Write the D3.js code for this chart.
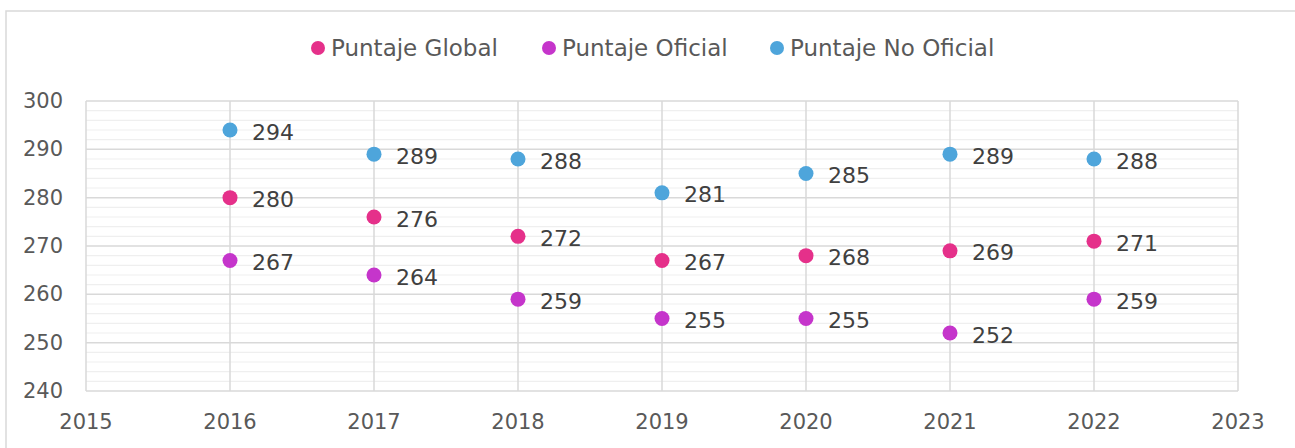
<!DOCTYPE html>
<html>
<head>
<meta charset="utf-8">
<script src="https://cdn.jsdelivr.net/npm/d3@7"></script>
<style>
  body { margin: 0; background: #fff; }
  svg { display: block; }
  text { font-family: "Century Gothic", "DejaVu Sans", sans-serif; }
</style>
</head>
<body>
<svg id="chart" width="1295" height="448"></svg>
<script>
const years = [2016, 2017, 2018, 2019, 2020, 2021, 2022];
const xTicks = [2015, 2016, 2017, 2018, 2019, 2020, 2021, 2022, 2023];
const yTicks = [240, 250, 260, 270, 280, 290, 300];
const seriesNames = ["Puntaje Global", "Puntaje Oficial", "Puntaje No Oficial"];
const seriesColors = ["#E5308A", "#C535CB", "#4EA5DB"];
const global = [280, 276, 272, 267, 268, 269, 271];
const oficial = [267, 264, 259, 255, 255, 252, 259];
const noOficial = [294, 289, 288, 281, 285, 289, 288];
const seriesValues = [global, oficial, noOficial];

const svg = d3.select("#chart");
const W = 1295, H = 448;
const m = { left: 86, right: 1238, top: 101, bottom: 391 };

// outer frame
svg.append("path")
  .attr("d", `M6,${H + 5} L6,11 L${W + 5},11`)
  .attr("fill", "none").attr("stroke", "#d9d9d9").attr("stroke-width", 1.5);

const x = d3.scaleLinear().domain([2015, 2023]).range([m.left, m.right]);
const y = d3.scaleLinear().domain([240, 300]).range([m.bottom, m.top]);

// minor gridlines
const minor = d3.range(240, 301, 2).filter(v => v % 10 !== 0);
svg.append("g").selectAll("line").data(minor).join("line")
  .attr("x1", m.left).attr("x2", m.right)
  .attr("y1", d => y(d)).attr("y2", d => y(d))
  .attr("stroke", "#efefef").attr("stroke-width", 1.2);

// major horizontal gridlines
svg.append("g").selectAll("line").data(yTicks).join("line")
  .attr("x1", m.left).attr("x2", m.right)
  .attr("y1", d => y(d)).attr("y2", d => y(d))
  .attr("stroke", "#d9d9d9").attr("stroke-width", 1.5);

// vertical gridlines
svg.append("g").selectAll("line").data(xTicks).join("line")
  .attr("x1", d => x(d)).attr("x2", d => x(d))
  .attr("y1", m.top).attr("y2", m.bottom)
  .attr("stroke", "#d9d9d9").attr("stroke-width", 1.5);

// y tick labels
svg.append("g").selectAll("text").data(yTicks).join("text")
  .attr("x", 63).attr("y", d => y(d))
  .attr("text-anchor", "end").attr("dominant-baseline", "central")
  .attr("fill", "#595959").attr("font-size", 21)
  .text(d => d);

// x tick labels
svg.append("g").selectAll("text").data(xTicks).join("text")
  .attr("x", d => x(d)).attr("y", 422)
  .attr("text-anchor", "middle").attr("dominant-baseline", "central")
  .attr("fill", "#595959").attr("font-size", 21)
  .text(d => d);

// points & labels
seriesValues.forEach((vals, si) => {
  const g = svg.append("g");
  const data = years.map((yr, i) => ({ yr, v: vals[i] }));
  g.selectAll("circle").data(data).join("circle")
    .attr("cx", d => x(d.yr)).attr("cy", d => y(d.v))
    .attr("r", 7.5).attr("fill", seriesColors[si]);
  g.selectAll("text").data(data).join("text")
    .attr("x", d => x(d.yr) + 22).attr("y", d => y(d.v) + 2)
    .attr("dominant-baseline", "central")
    .attr("fill", "#404040").attr("font-size", 22)
    .text(d => d.v);
});

// legend
const legendX = [318, 549, 777];
const lg = svg.append("g");
seriesNames.forEach((n, i) => {
  lg.append("circle").attr("cx", legendX[i]).attr("cy", 48).attr("r", 7)
    .attr("fill", seriesColors[i]);
  lg.append("text").attr("x", legendX[i] + 13).attr("y", 48)
    .attr("dominant-baseline", "central")
    .attr("fill", "#595959").attr("font-size", 23)
    .text(n);
});
</script>
</body>
</html>
